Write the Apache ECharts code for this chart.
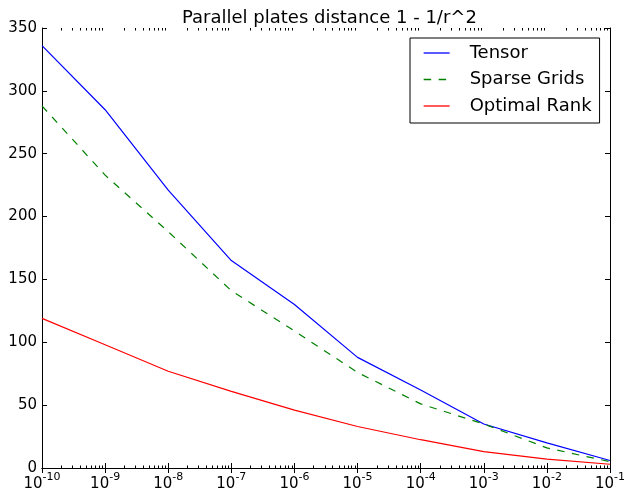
<!DOCTYPE html>
<html>
<head>
<meta charset="utf-8">
<script src="https://cdn.jsdelivr.net/npm/echarts@6/dist/echarts.min.js"></script>
<style>
  html, body { margin: 0; padding: 0; background: #fff; }
  #main { width: 626px; height: 489px; }
</style>
</head>
<body>
<div id="main"></div>
<script>
// tolerance values on the x axis (log scale)
const tolerances = [1e-10, 1e-9, 1e-8, 1e-7, 1e-6, 1e-5, 1e-4, 1e-3, 1e-2, 1e-1];

const tensor = [336, 285, 221, 165, 130, 88, 62, 35, 20, 6];
const sparseGrids = [288, 233, 188, 141, 109, 76, 51, 35, 16, 5];
const optimalRank = [119, 98, 77, 61, 46, 33, 22.5, 13, 7, 3];

const yTicks = [0, 50, 100, 150, 200, 250, 300, 350];

const FONT = 'DejaVu Sans';

function pairs(values) {
  return tolerances.map((x, i) => [x, values[i]]);
}

const chart = echarts.init(document.getElementById('main'), null, { renderer: 'canvas' });

const axisLine = { show: true, lineStyle: { color: '#000', width: 1 } };
const majorTick = { show: true, inside: true, length: 5, lineStyle: { color: '#000' } };

const option = {
  animation: false,
  backgroundColor: '#fff',
  title: {
    text: 'Parallel plates distance 1 - 1/r^2',
    left: 177,
    top: 4,
    textStyle: { fontFamily: FONT, fontSize: 18, fontWeight: 'normal', color: '#000' }
  },
  legend: {
    orient: 'vertical',
    left: 410,
    top: 38,
    padding: [5, 8, 7, 13],
    itemWidth: 26,
    itemHeight: 14,
    itemGap: 6.5,
    borderColor: '#000',
    borderWidth: 1,
    borderRadius: 0,
    itemStyle: { opacity: 0 },
    lineStyle: { width: 1.3 },
    textStyle: { fontFamily: FONT, fontSize: 18, color: '#000', lineHeight: 20, padding: [0, 0, 0, 15] },
    data: [
      { name: 'Tensor' },
      { name: 'Sparse Grids', lineStyle: { type: [7.5, 7.5] } },
      { name: 'Optimal Rank' }
    ]
  },
  grid: { left: 42, right: 16, top: 28, bottom: 21, outerBoundsMode: 'none' },
  xAxis: [
    {
      type: 'log',
      logBase: 10,
      min: 1e-10,
      max: 1e-1,
      interval: 1,
      axisLine: axisLine,
      axisTick: majorTick,
      splitLine: { show: false },
      axisLabel: {
        margin: 4,
        color: '#000',
        formatter: v => '{b|10}{s|' + Math.round(Math.log10(v)) + '}',
        rich: {
          b: { fontFamily: FONT, fontSize: 15, color: '#000', lineHeight: 20, verticalAlign: 'bottom' },
          s: { fontFamily: FONT, fontSize: 11, color: '#000', lineHeight: 20, verticalAlign: 'top' }
        }
      }
    },
    {
      type: 'log',
      logBase: 10,
      min: 1e-10,
      max: 1e-1,
      interval: 1,
      position: 'top',
      axisLine: axisLine,
      axisTick: majorTick,
      axisLabel: { show: false },
      splitLine: { show: false }
    }
  ],
  yAxis: [
    {
      type: 'value',
      min: yTicks[0],
      max: yTicks[yTicks.length - 1],
      interval: 50,
      axisLine: axisLine,
      axisTick: majorTick,
      splitLine: { show: false },
      axisLabel: { margin: 5, color: '#000', fontFamily: FONT, fontSize: 15 }
    },
    {
      type: 'value',
      min: yTicks[0],
      max: yTicks[yTicks.length - 1],
      interval: 50,
      position: 'right',
      axisLine: axisLine,
      axisTick: majorTick,
      splitLine: { show: false },
      axisLabel: { show: false }
    }
  ],
  series: [
    {
      name: 'Tensor',
      type: 'line',
      data: pairs(tensor),
      symbol: 'none',
      lineStyle: { color: '#0000ff', width: 1.2 },
      itemStyle: { color: '#0000ff' }
    },
    {
      name: 'Sparse Grids',
      type: 'line',
      data: pairs(sparseGrids),
      symbol: 'none',
      lineStyle: { color: '#008000', width: 1.2, type: [7.5, 7.5] },
      itemStyle: { color: '#008000' }
    },
    {
      name: 'Optimal Rank',
      type: 'line',
      data: pairs(optimalRank),
      symbol: 'none',
      lineStyle: { color: '#ff0000', width: 1.2 },
      itemStyle: { color: '#ff0000' }
    }
  ]
};

chart.setOption(option);

// minor log ticks (2..9 in every decade), top and bottom, placed through the axis scale
const yBottom = chart.convertToPixel({ yAxisIndex: 0 }, 0);
const yTop = chart.convertToPixel({ yAxisIndex: 0 }, 350);
const minorTicks = [];
for (let d = -10; d < -1; d++) {
  for (let k = 2; k <= 9; k++) {
    const x = Math.round(chart.convertToPixel({ xAxisIndex: 0 }, k * Math.pow(10, d))) + 0.5;
    minorTicks.push({
      type: 'line',
      shape: { x1: x, y1: yBottom, x2: x, y2: yBottom - 2.5 },
      style: { stroke: '#000', lineWidth: 1 },
      silent: true
    });
    minorTicks.push({
      type: 'line',
      shape: { x1: x, y1: yTop, x2: x, y2: yTop + 2.5 },
      style: { stroke: '#000', lineWidth: 1 },
      silent: true
    });
  }
}
chart.setOption({ graphic: minorTicks });
</script>
</body>
</html>
